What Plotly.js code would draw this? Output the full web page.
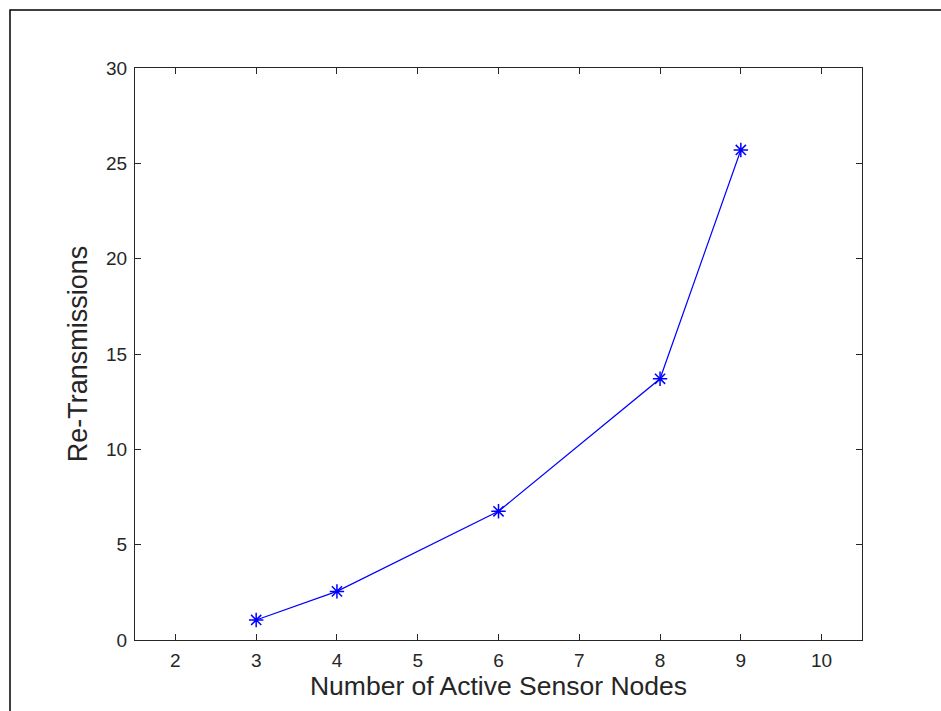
<!DOCTYPE html>
<html>
<head>
<meta charset="utf-8">
<script src="https://cdn.plot.ly/plotly-3.0.1.min.js"></script>
<style>
  html, body { margin: 0; padding: 0; background: #fff; }
  #chart { width: 941px; height: 711px; }
</style>
</head>
<body>
<div id="chart"></div>
<script>
// Data
const activeNodes = [3, 4, 6, 8, 9];
const retransmissions = [1.05, 2.55, 6.75, 13.7, 25.7];
const xTickVals = [2, 3, 4, 5, 6, 7, 8, 9, 10];
const xTickText = ["2", "3", "4", "5", "6", "7", "8", "9", "10"];
const yTickVals = [0, 5, 10, 15, 20, 25, 30];
const yTickText = ["0", "5", "10", "15", "20", "25", "30"];
const xTitle = "Number of Active Sensor Nodes";
const yTitle = "Re-Transmissions";

const plotL = 135, plotR = 862, plotT = 68, plotB = 640, W = 941, H = 711;
const pw = plotR - plotL, ph = plotB - plotT;
const px = v => (v - plotL) / pw;
const py = v => (plotB - v) / ph;

const trace = {
  x: activeNodes,
  y: retransmissions,
  type: 'scatter',
  mode: 'lines+markers',
  line: { color: '#0000ff', width: 1.2 },
  marker: { symbol: 'asterisk-open', size: 12, color: '#0000ff', line: { color: '#0000ff', width: 1.5 } },
  cliponaxis: false,
  showlegend: false
};

const axisCommon = {
  showline: true, linecolor: '#262626', linewidth: 1,
  mirror: 'ticks', ticks: 'inside', ticklen: 6, tickwidth: 1, tickcolor: '#262626',
  showgrid: false, zeroline: false,
  tickfont: { family: 'Liberation Sans, Arial, sans-serif', size: 19, color: '#262626' },
  fixedrange: true
};

const layout = {
  width: W, height: H,
  margin: { l: plotL, r: W - plotR, t: plotT, b: H - plotB, pad: 0 },
  paper_bgcolor: '#ffffff', plot_bgcolor: '#ffffff',
  xaxis: Object.assign({}, axisCommon, {
    range: [1.5, 10.5], tickmode: 'array', tickvals: xTickVals, ticktext: xTickText,
    ticklabelstandoff: 3,
    title: { text: xTitle, font: { family: 'Liberation Sans, Arial, sans-serif', size: 26.5, color: '#262626' }, standoff: 4 }
  }),
  yaxis: Object.assign({}, axisCommon, {
    range: [0, 30], tickmode: 'array', tickvals: yTickVals, ticktext: yTickText,
    ticklabelstandoff: 3,
    title: { text: yTitle, font: { family: 'Liberation Sans, Arial, sans-serif', size: 27, color: '#262626' }, standoff: 10 }
  }),
  shapes: [{
    type: 'rect', xref: 'paper', yref: 'paper',
    x0: px(10), x1: px(960), y0: py(730), y1: py(10),
    line: { color: '#000000', width: 1.5 }, fillcolor: 'rgba(0,0,0,0)', layer: 'below'
  }]
};

Plotly.newPlot('chart', [trace], layout, { displayModeBar: false, staticPlot: true });
</script>
</body>
</html>
